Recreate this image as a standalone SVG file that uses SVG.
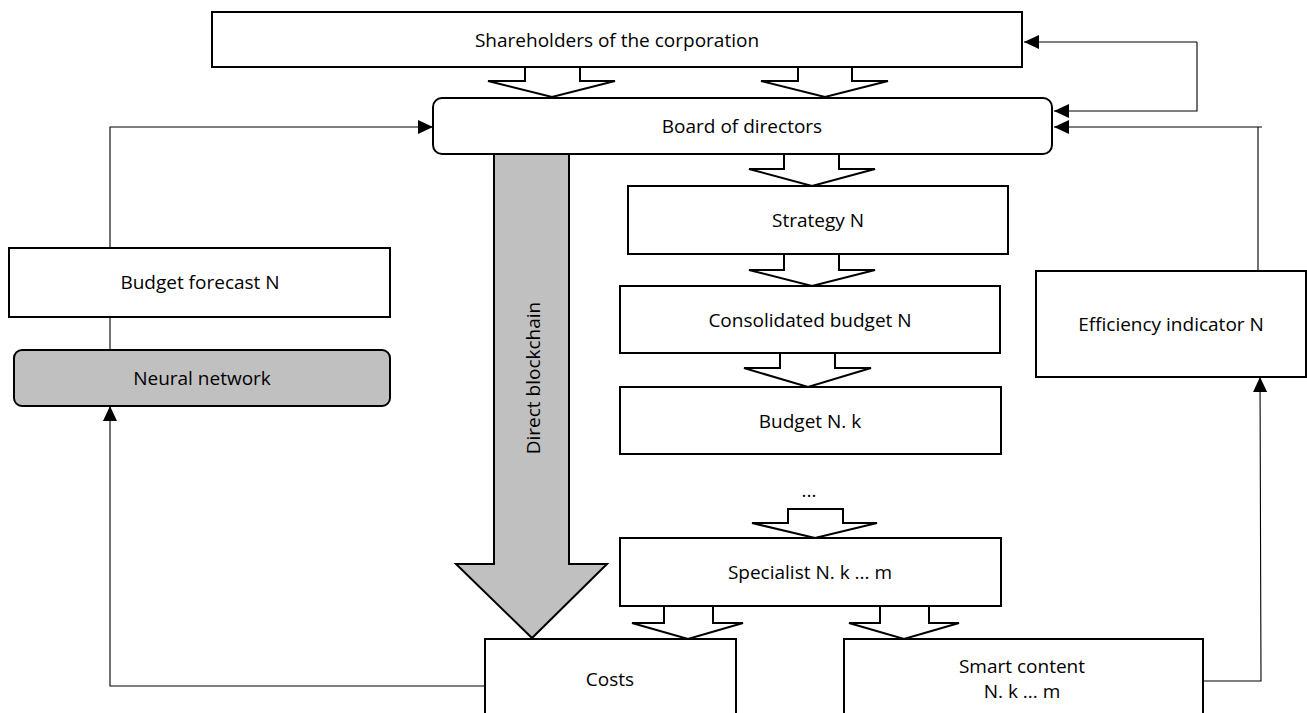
<svg xmlns="http://www.w3.org/2000/svg" width="1307" height="713" viewBox="0 0 1307 713">
<style>
.box{fill:#fff;stroke:#000;stroke-width:2}
.gray{fill:#c0c0c0;stroke:#000;stroke-width:2}
.ha{fill:#fff;stroke:#000;stroke-width:2;stroke-linejoin:miter}
.ln{fill:none;stroke:#000;stroke-width:1.1}
text{font-family:"Open Sans","Liberation Sans",sans-serif;font-size:19px;fill:#000;text-anchor:middle}
</style>
<defs>
<marker id="ah" markerUnits="userSpaceOnUse" markerWidth="15" markerHeight="14" refX="15" refY="7" orient="auto" viewBox="0 0 15 14">
<path d="M0,0 L15,7 L0,14 z" fill="#000"/>
</marker>
</defs>
<rect width="1307" height="713" fill="#fff"/>

<g id="connectors">
<path class="ln" d="M1197,42 L1024,42" marker-end="url(#ah)"/>
<path class="ln" d="M1197,42 L1197,111 L1054,111" marker-end="url(#ah)"/>
<path class="ln" d="M1258,271 L1258,127 L1262,127 M1258,127 L1054,127" marker-end="url(#ah)"/>
<path class="ln" d="M110,248 L110,127 L433,127" marker-end="url(#ah)"/>
<path class="ln" d="M110,317 L110,350"/>
<path class="ln" d="M485,686 L110,686 L110,406" marker-end="url(#ah)"/>
<path class="ln" d="M1203,681 L1261,681 L1260,377" marker-end="url(#ah)"/>
<path class="ha" d="M525,67 L580,67 L580,81 L615,81 L552,97 L488,81 L525,81 Z"/>
<path class="ha" d="M798,67 L852,67 L852,81 L888,81 L825,97 L761,81 L798,81 Z"/>
<path class="ha" d="M784,154 L839,154 L839,169 L875,169 L812,186 L749,169 L784,169 Z"/>
<path class="ha" d="M784,254 L839,254 L839,270 L875,270 L812,286 L749,270 L784,270 Z"/>
<path class="ha" d="M780,353 L835,353 L835,368 L871,368 L808,387 L744,368 L780,368 Z"/>
<path class="ha" d="M788,509 L843,509 L843,523 L877,523 L815,538 L752,523 L788,523 Z"/>
<path class="ha" d="M664,606 L713,606 L713,623 L743,623 L688,639 L632,623 L664,623 Z"/>
<path class="ha" d="M880,606 L929,606 L929,623 L959,623 L904,639 L849,623 L880,623 Z"/>
</g>

<g id="shareholders">
<rect class="box" x="212" y="12" width="810" height="55"/>
<text x="617" y="47">Shareholders of the corporation</text>
</g>

<g id="board">
<rect class="box" x="433" y="98" width="619" height="56" rx="9"/>
<text x="742" y="133">Board of directors</text>
</g>

<g id="direct-blockchain">
<path class="gray" d="M494,154 L569,154 L569,564 L607,564 L532,638 L456,564 L494,564 Z"/>
<text transform="translate(540,378) rotate(-90)">Direct blockchain</text>
</g>

<g id="strategy">
<rect class="box" x="628" y="186" width="380" height="68"/>
<text x="818" y="227">Strategy N</text>
</g>

<g id="consolidated-budget">
<rect class="box" x="620" y="286" width="380" height="67"/>
<text x="810" y="327">Consolidated budget N</text>
</g>

<g id="budget-nk">
<rect class="box" x="620" y="387" width="381" height="67"/>
<text x="810" y="428">Budget N. k</text>
</g>

<g id="ellipsis">
<text x="809" y="497">...</text>
</g>

<g id="specialist">
<rect class="box" x="620" y="538" width="381" height="68"/>
<text x="810" y="579">Specialist N. k ... m</text>
</g>

<g id="costs">
<rect class="box" x="485" y="639" width="251" height="90"/>
<text x="610" y="686">Costs</text>
</g>

<g id="smart-content">
<rect class="box" x="844" y="639" width="359" height="90"/>
<text x="1022" y="673">Smart content</text>
<text x="1022" y="698">N. k ... m</text>
</g>

<g id="efficiency">
<rect class="box" x="1036" y="271" width="270" height="106"/>
<text x="1171" y="331">Efficiency indicator N</text>
</g>

<g id="budget-forecast">
<rect class="box" x="9" y="248" width="381" height="69"/>
<text x="200" y="289">Budget forecast N</text>
</g>

<g id="neural-network">
<rect class="gray" x="14" y="350" width="376" height="56" rx="8"/>
<text x="202" y="385">Neural network</text>
</g>
</svg>
